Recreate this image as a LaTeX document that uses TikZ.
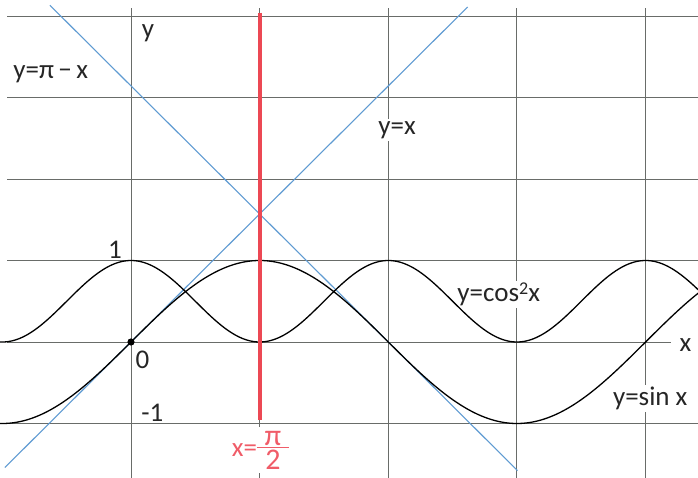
\documentclass[tikz,border=0pt]{standalone}
\usepackage{fontspec}
\setmainfont{Carlito}
\definecolor{gridc}{RGB}{105,108,105}
\definecolor{bluel}{RGB}{95,155,210}
\definecolor{redl}{RGB}{236,72,84}
\definecolor{redt}{RGB}{240,92,104}
\tikzset{
  gridline/.style={draw=gridc, line width=0.9pt},
  blueline/.style={draw=bluel, line width=1.1pt},
  curve/.style={draw=black, line width=1.3pt},
  redline/.style={draw=redl, line width=4pt},
  lbl/.style={font=\fontsize{27}{30}\selectfont, text=black!85, inner sep=1pt},
  cutlbl/.style={lbl, fill=white, inner sep=2pt}
}
\newcommand{\myfrac}[2]{$\vcenter{\fontsize{30}{32}\selectfont\hbox to 32pt{\hss#1\hss}\kern1pt\hrule height 1.1pt\kern2pt\hbox to 32pt{\hss#2\hss}}$}
\begin{document}
\begin{tikzpicture}[x=81.9pt, y=81.5pt]
\useasboundingbox (-1.5995,-1.6687) rectangle (6.923,4.1963);
\fill[white] (-1.5995,-1.6687) rectangle (6.923,4.1963);
% grid
\foreach \yy in {-1,1,2,3,4} \draw[gridline] (-1.514,\yy) -- (6.923,\yy);
\draw[gridline] (-1.514,0) -- (6.593,0);
\foreach \xx in {0,1,2,3,4} \draw[gridline] ({\xx*pi/2},4.098) -- ({\xx*pi/2},-1.669);
% labels that interrupt grid lines
\node[cutlbl] (lyx) at (3.248,2.60) {y=x};
\node[cutlbl] (lcos) at (4.49,0.58) {y=cos\raisebox{7pt}{\fontsize{18}{20}\selectfont 2}x};
\node[cutlbl] (lsin) at (6.34,-0.69) {y=sin x};
\node[cutlbl, text=redt, inner sep=4pt, font=\fontsize{27}{29}\selectfont] (lred) at (1.58,-1.33) {x=\myfrac{π}{2}};
% blue lines
\draw[blueline] (-1.54,-1.54) -- (4.11,4.11);
\draw[blueline] (-0.99,{pi+0.99}) -- (4.72,{pi-4.72});
% curves
\draw[curve] plot[domain=-1.62:6.95, samples=300, smooth] (\x,{cos(\x r)*cos(\x r)});
\draw[curve] plot[domain=-1.62:6.95, samples=300, smooth] (\x,{sin(\x r)});
% red line
\draw[redline] ({pi/2},4.04) -- ({pi/2},-0.957);
% origin dot
\fill[black] (0,0) circle (3.6pt);
% other labels
\node[lbl] (ly) at (0.208,3.79) {y};
\node[lbl] (lpix) at (-0.98,3.28) {y=π\,−\,x};
\node[lbl] (l1) at (-0.195,1.13) {1};
\node[lbl] (l0) at (0.14,-0.22) {0};
\node[lbl] (lm1) at (0.26,-0.87) {-1};
\node[lbl] (lx) at (6.77,-0.04) {x};
\end{tikzpicture}
\end{document}
